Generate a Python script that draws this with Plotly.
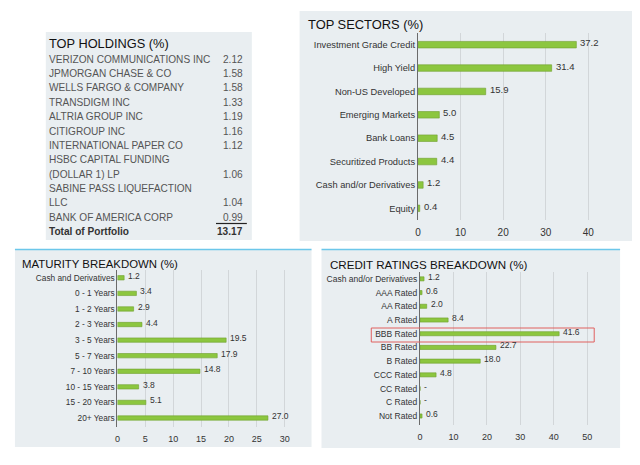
import plotly.graph_objects as go

# ---------------- DATA ----------------
holding_lines = [
    ["VERIZON COMMUNICATIONS INC"],
    ["JPMORGAN CHASE & CO"],
    ["WELLS FARGO & COMPANY"],
    ["TRANSDIGM INC"],
    ["ALTRIA GROUP INC"],
    ["CITIGROUP INC"],
    ["INTERNATIONAL PAPER CO"],
    ["HSBC CAPITAL FUNDING", "(DOLLAR 1) LP"],
    ["SABINE PASS LIQUEFACTION", "LLC"],
    ["BANK OF AMERICA CORP"],
]
holding_values = ["2.12", "1.58", "1.58", "1.33", "1.19", "1.16", "1.12", "1.06", "1.04", "0.99"]
holding_total_label = "Total of Portfolio"
holding_total = "13.17"

sector_names = ["Investment Grade Credit", "High Yield", "Non-US Developed", "Emerging Markets",
                "Bank Loans", "Securitized Products", "Cash and/or Derivatives", "Equity"]
sector_values = [37.2, 31.4, 15.9, 5.0, 4.5, 4.4, 1.2, 0.4]
sector_ticks = [0, 10, 20, 30, 40]

maturity_names = ["Cash and Derivatives", "0 - 1 Years", "1 - 2 Years", "2 - 3 Years", "3 - 5 Years",
                  "5 - 7 Years", "7 - 10 Years", "10 - 15 Years", "15 - 20 Years", "20+ Years"]
maturity_values = [1.2, 3.4, 2.9, 4.4, 19.5, 17.9, 14.8, 3.8, 5.1, 27.0]
maturity_ticks = [0, 5, 10, 15, 20, 25, 30]

rating_names = ["Cash and/or Derivatives", "AAA Rated", "AA Rated", "A Rated", "BBB Rated", "BB Rated",
                "B Rated", "CCC Rated", "CC Rated", "C Rated", "Not Rated"]
rating_values = [1.2, 0.6, 2.0, 8.4, 41.6, 22.7, 18.0, 4.8, 0.0, 0.0, 0.6]
rating_labels = ["1.2", "0.6", "2.0", "8.4", "41.6", "22.7", "18.0", "4.8", "-", "-", "0.6"]
rating_ticks = [0, 10, 20, 30, 40, 50]

titles = ["TOP HOLDINGS (%)", "TOP SECTORS (%)", "MATURITY BREAKDOWN (%)", "CREDIT RATINGS BREAKDOWN (%)"]

# ---------------- STYLE ----------------
W, H = 640, 465
FONT = "Liberation Sans, Arial, sans-serif"
BG = "#e9eef1"
BAR = "#8cc63f"
BAR_LINE = "#6f9f2e"
GRID = "#d2d6d9"
TXT = "#333333"
PAD = 4  # annotation internal padding compensation


def px(x):
    return x / W


def py(y):
    return 1 - y / H


fig = go.Figure()


def fmt(v):
    return f"{v:.1f}"


annotations = []


def bar(values, names, labels, xa, ya, size, width):
    fig.add_trace(go.Bar(
        x=values, y=names, orientation="h",
        marker=dict(color=BAR, line=dict(color=BAR_LINE, width=0.6)),
        xaxis=xa, yaxis=ya, width=width, hoverinfo="skip"))
    for v, n, lab in zip(values, names, labels):
        annotations.append(dict(text=lab, x=v, y=n, xref=xa, yref=ya, xanchor="left", yanchor="middle",
                                xshift=2, yshift=2, showarrow=False,
                                font=dict(size=size, color=TXT, family=FONT)))


bar(sector_values, sector_names, [fmt(v) for v in sector_values], "x", "y", 9.5, 0.28)
bar(maturity_values, maturity_names, [fmt(v) for v in maturity_values], "x2", "y2", 8.5, 0.28)
bar(rating_values, rating_names, rating_labels, "x3", "y3", 8.5, 0.3)


def xax(domain, rng, ticks, anchor, size):
    return dict(domain=domain, range=rng, tickvals=ticks, showgrid=True, gridcolor=GRID, gridwidth=1,
                zeroline=False, showline=False, ticks="outside", ticklen=3, tickcolor="rgba(0,0,0,0)",
                tickfont=dict(size=size, color=TXT, family=FONT), anchor=anchor, fixedrange=True)


def yax(domain, anchor, size):
    return dict(domain=domain, autorange="reversed", showline=True, linecolor="#6b6b6b", linewidth=1.2,
                showgrid=False, ticks="", tickfont=dict(size=size, color=TXT, family=FONT),
                anchor=anchor, fixedrange=True)


fig.update_layout(
    width=W, height=H, margin=dict(l=0, r=0, t=0, b=0),
    paper_bgcolor="white", plot_bgcolor="rgba(0,0,0,0)", showlegend=False,
    font=dict(family=FONT, color=TXT),
    xaxis=xax([px(417), px(609.4)], [0, 45], sector_ticks, "y", 10),
    yaxis=yax([py(220), py(33)], "x", 9.3),
    xaxis2=xax([px(115), px(299.8)], [0, 33], maturity_ticks, "y2", 9),
    yaxis2=yax([py(427), py(270)], "x2", 8.3),
    xaxis3=xax([px(419), px(603.8)], [0, 55], rating_ticks, "y3", 9),
    yaxis3=yax([py(425), py(272)], "x3", 8.5),
)

shapes = []
# panel backgrounds
for (x0, y0, x1, y1) in [(43, 32, 250, 240), (298, 11, 632, 241), (12, 250, 310, 447), (320, 250, 620, 448)]:
    shapes.append(dict(type="rect", xref="paper", yref="paper", x0=px(x0), x1=px(x1), y0=py(y1), y1=py(y0),
                       fillcolor=BG, line=dict(width=0), layer="below"))
# blue top lines of lower panels
for (x0, x1) in [(12, 310), (320, 620)]:
    shapes.append(dict(type="line", xref="paper", yref="paper", x0=px(x0), x1=px(x1), y0=py(249.5), y1=py(249.5),
                       line=dict(color="#6cc7ea", width=1.5)))
# red highlight rectangle around BBB row
shapes.append(dict(type="rect", xref="paper", yref="paper", x0=px(370), x1=px(594), y0=py(342), y1=py(328),
                   line=dict(color="#e0605f", width=1), fillcolor="rgba(0,0,0,0)"))
# underline in holdings table
shapes.append(dict(type="line", xref="paper", yref="paper", x0=px(214), x1=px(245), y0=py(223.5), y1=py(223.5),
                   line=dict(color="#222222", width=1.2)))

# titles
for t, (x, y, s) in zip(titles, [(48, 44, 12.8), (308, 24, 12.9), (21, 264, 11.4), (331, 264, 11.6)]):
    annotations.append(dict(text=t, x=px(x - PAD), y=py(y), xref="paper", yref="paper", xanchor="left",
                            yanchor="middle", showarrow=False, font=dict(size=s, color="#111111", family=FONT)))

# holdings table
row_y0 = 59.3
row_h = 14.35
r = 0
for lines, val in zip(holding_lines, holding_values):
    for i, ln in enumerate(lines):
        yy = row_y0 + r * row_h
        annotations.append(dict(text=ln, x=px(48 - PAD), y=py(yy), xref="paper", yref="paper", xanchor="left",
                                yanchor="middle", showarrow=False, font=dict(size=10.1, color="#555555", family=FONT)))
        if i == len(lines) - 1:
            annotations.append(dict(text=val, x=px(241 + 2), y=py(yy), xref="paper", yref="paper", xanchor="right",
                                    yanchor="middle", showarrow=False,
                                    font=dict(size=10.1, color="#555555", family=FONT)))
        r += 1
yy = row_y0 + r * row_h
annotations.append(dict(text="<b>" + holding_total_label + "</b>", x=px(48 - PAD), y=py(yy), xref="paper",
                        yref="paper", xanchor="left", yanchor="middle", showarrow=False,
                        font=dict(size=10.1, color="#333333", family=FONT)))
annotations.append(dict(text="<b>" + holding_total + "</b>", x=px(243), y=py(yy), xref="paper", yref="paper",
                        xanchor="right", yanchor="middle", showarrow=False,
                        font=dict(size=10.1, color="#333333", family=FONT)))

fig.update_layout(shapes=shapes, annotations=annotations)

fig.write_html("out.html")
